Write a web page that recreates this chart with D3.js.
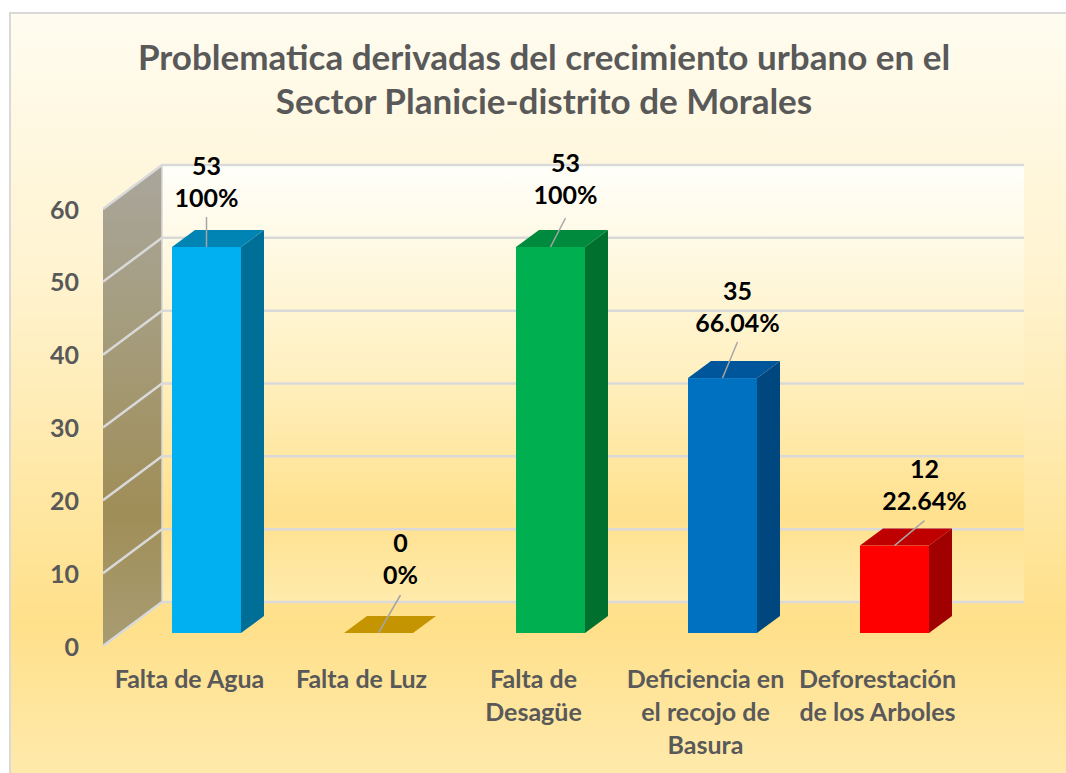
<!DOCTYPE html>
<html>
<head>
<meta charset="utf-8">
<script src="https://d3js.org/d3.v7.min.js"></script>
<style>
html,body{margin:0;padding:0;background:#fff;}
text{font-family:Lato,"Open Sans",sans-serif;font-weight:700;}
</style>
</head>
<body>
<div id="Container"></div>
<script>
var categories=[["Falta de Agua"],["Falta de Luz"],["Falta de","Desagüe"],["Deficiencia en","el recojo de","Basura"],["Deforestación","de los Arboles"]];
var values=[53,0,53,35,12];
var percents=["100%","0%","100%","66.04%","22.64%"];
var colors=["#00B0F0","#C49500","#00B050","#0070C0","#FF0000"];
var topColors=["#0084B4","#C49500","#008A3E","#00569A","#BF0000"];
var sideColors=["#006F98","#C49500","#00702F","#004780","#A00000"];
var yTicks=[0,10,20,30,40,50,60];
var titleLines=["Problematica derivadas del crecimiento urbano en el","Sector Planicie-distrito de Morales"];
var labelDx=[0,22,15,15,30];
var labelDy=[-80,-89,-83,-86,-76];
var leaderDy=[-30,-38,-29,-36,-25];

var width=1066,height=773;
var svg=d3.select("#Container").append("svg")
	.attr("width",width)
	.attr("height",height)
	.style("display","block");

var defs=svg.append("defs");
function gradient(id,x2,y2,stops)
{
	var g=defs.append("linearGradient").attr("id",id)
		.attr("x1",0).attr("y1",0).attr("x2",x2).attr("y2",y2);
	stops.forEach(function(s){
		g.append("stop").attr("offset",s[0]).attr("stop-color",s[1]);
	});
}
gradient("bg",0,1,[[0,"#FFFCF0"],[0.35,"#FFF3CF"],[0.8,"#FFE08A"],[1,"#FFEAAC"]]);
gradient("wall",0,1,[[0,"#FFFFFA"],[0.45,"#FFF1C4"],[0.8,"#FFE18E"],[1,"#FFEBAC"]]);
gradient("side",0,1,[[0,"#A9A69C"],[0.35,"#A59C7C"],[0.72,"#A08E58"],[1,"#A89C72"]]);

//chart frame
svg.append("rect")
	.attr("x",10).attr("y",13)
	.attr("width",width-10+2).attr("height",height-13+2)
	.style("fill","url(#bg)")
	.style("stroke","#D9D9D9")
	.style("stroke-width",2);

var title=svg.append("text")
	.attr("x",544)
	.attr("text-anchor","middle")
	.style("fill","#595959")
	.style("font-size","35px");
title.selectAll("tspan").data(titleLines).enter().append("tspan")
	.attr("x",544)
	.attr("y",function(d,i){return 70+i*43.5;})
	.text(function(d){return d;});

//3d plot geometry
var plotLeft=103,plotRight=965;
var depthX=59,depthY=-44;
var x=d3.scaleBand().domain(d3.range(categories.length)).range([plotLeft,plotLeft+860]).paddingInner(0).paddingOuter(0);
var y=d3.scaleLinear().domain([0,60]).range([646,209]);
var barW=69,barDx=23,barDy=-17,floorInset=17.5,floorUp=13;
function barX(i){return x(i)+x.bandwidth()/2-barW/2+floorInset;}

//back wall
svg.append("rect")
	.attr("x",plotLeft+depthX).attr("y",y(60)+depthY)
	.attr("width",plotRight-plotLeft).attr("height",y(0)-y(60))
	.style("fill","url(#wall)");
//side wall
svg.append("polygon")
	.attr("points",[[plotLeft,y(0)],[plotLeft+depthX,y(0)+depthY],[plotLeft+depthX,y(60)+depthY],[plotLeft,y(60)]].join(" "))
	.style("fill","url(#side)");

//gridlines
var grid=svg.append("g").selectAll("polyline").data(yTicks).enter().append("polyline")
	.attr("points",function(d){
		return [[plotLeft,y(d)],[plotLeft+depthX,y(d)+depthY],[plotRight+depthX,y(d)+depthY]].join(" ");
	})
	.style("fill","none")
	.style("stroke","#D9D9D9")
	.style("stroke-width",2.5);
svg.append("line")
	.attr("x1",plotLeft+depthX).attr("x2",plotLeft+depthX)
	.attr("y1",y(60)+depthY).attr("y2",y(0)+depthY)
	.style("stroke","#D9D9D9")
	.style("stroke-width",1.5);

//y axis labels
var yAxis=svg.append("g")
	.attr("transform","translate("+(plotLeft-24)+",1)")
	.call(d3.axisLeft(y).tickValues(yTicks).tickSize(0).tickPadding(0));
yAxis.select(".domain").remove();
yAxis.selectAll("text")
	.style("font-family","Lato,sans-serif")
	.style("font-size","25px")
	.style("fill","#595959");

//bars
var bars=svg.append("g").selectAll("g").data(values).enter().append("g");
bars.append("polygon")
	.attr("points",function(d,i){
		var l=barX(i),r=l+barW,b=y(d)-floorUp,t=y(0)-floorUp;
		return [[r,b],[r+barDx,b+barDy],[r+barDx,t+barDy],[r,t]].join(" ");
	})
	.style("fill",function(d,i){return sideColors[i];});
bars.append("polygon")
	.attr("points",function(d,i){
		var l=barX(i),r=l+barW,b=y(d)-floorUp;
		return [[l,b],[l+barDx,b+barDy],[r+barDx,b+barDy],[r,b]].join(" ");
	})
	.style("fill",function(d,i){return topColors[i];});
bars.append("rect")
	.attr("x",function(d,i){return barX(i);})
	.attr("y",function(d){return y(d)-floorUp;})
	.attr("width",barW)
	.attr("height",function(d){return y(0)-y(d);})
	.style("fill",function(d,i){return colors[i];});

//leader lines and data labels
bars.append("line")
	.attr("x1",function(d,i){return barX(i)+barW/2;})
	.attr("y1",function(d){return y(d)-floorUp;})
	.attr("x2",function(d,i){return barX(i)+barW/2+labelDx[i];})
	.attr("y2",function(d,i){return y(d)-floorUp+leaderDy[i];})
	.style("stroke","#A6A6A6")
	.style("stroke-width",1.5);
var labels=bars.append("text")
	.attr("text-anchor","middle")
	.style("fill","#000")
	.style("font-size","25px");
labels.append("tspan")
	.attr("x",function(d,i){return barX(i)+barW/2+labelDx[i];})
	.attr("y",function(d,i){return y(d)-floorUp+labelDy[i]+8;})
	.text(function(d){return d;});
labels.append("tspan")
	.attr("x",function(d,i){return barX(i)+barW/2+labelDx[i];})
	.attr("y",function(d,i){return y(d)-floorUp+labelDy[i]+40;})
	.text(function(d,i){return percents[i];});

//category labels
var cats=svg.append("g").selectAll("text").data(categories).enter().append("text")
	.attr("text-anchor","middle")
	.style("fill","#595959")
	.style("font-size","25px");
cats.selectAll("tspan").data(function(d,i){return d.map(function(s){return {s:s,i:i};});}).enter().append("tspan")
	.attr("x",function(d){return barX(d.i)+barW/2-17;})
	.attr("y",function(d,j){return 688+j*33;})
	.text(function(d){return d.s;});
</script>
</body>
</html>
